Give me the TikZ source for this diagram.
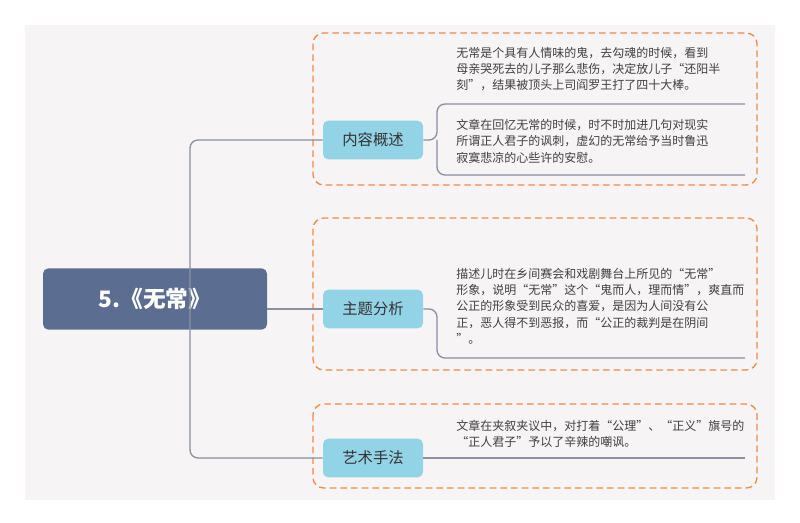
\documentclass[tikz,border=0pt]{standalone}
\usepackage{fontspec}
\setmainfont{Noto Sans CJK SC}
\usetikzlibrary{positioning}
\definecolor{rootblue}{HTML}{5B6E92}
\definecolor{topicblue}{HTML}{92D3E6}
\definecolor{dashorange}{HTML}{F08A4B}
\definecolor{linegray}{HTML}{8A90A0}
\definecolor{panelgray}{HTML}{F6F4F4}
\tikzset{
  topic/.style={rounded corners=4pt, fill=topicblue, minimum width=75pt, minimum height=29pt, font=\fontsize{11.5}{13}\selectfont, text=black!80},
  detail/.style={align=left, anchor=north west, font=\fontsize{9}{12.2}\selectfont, text=black!75, inner sep=0pt},
  group/.style={draw=dashorange, dashed, line width=1pt, dash pattern=on 5pt off 3pt, rounded corners=8pt, fill=panelgray},
  branch/.style={draw=linegray, line width=1pt, rounded corners=6pt}
}
\begin{document}
\begin{tikzpicture}[x=0.75pt, y=-0.75pt]
  \useasboundingbox (0,0) rectangle (800,523);
  \fill[white] (0,0) rectangle (800,523);
  \fill[panelgray] (25,25) rectangle (775,500);
  % groups
  \draw[group] (313,33) rectangle (757,185);
  \draw[group] (313,218) rectangle (757,370);
  \draw[group] (313,404) rectangle (757,488);
  % root and topics
  \node (root) at (155,299) [rounded corners=4pt, fill=rootblue, minimum width=168pt, minimum height=46pt, text=white, font=\fontsize{17}{20}\selectfont\bfseries] {5.《无常》};
  \node (content) at (373,140) [topic] {内容概述};
  \node (theme) at (373,309) [topic] {主题分析};
  \node (art) at (373,458) [topic] {艺术手法};
  \coordinate (c1) at (745,104);
  \coordinate (c2) at (745,175);
  \coordinate (t1) at (745,358);
  \coordinate (a1) at (745,458);
  % connectors
  \draw[branch] (content.west) -| (190,299) |- (art.west);
  \draw[branch] (root.east |- theme.west) -- (theme.west);
  \draw[branch] (content.east) -- (437,140) |- (c1);
  \draw[branch] (437,140) |- (c2);
  \draw[branch] (theme.east) -- (437,309) |- (t1);
  \draw[branch] (art.east) -- (a1);
  % texts
  \node (d1) at (456,47) [detail] {无常是个具有人情味的鬼，去勾魂的时候，看到\\母亲哭死去的儿子那么悲伤，决定放儿子“还阳半\\刻”，结果被顶头上司阎罗王打了四十大棒。};
  \node (d2) at (456,119) [detail] {文章在回忆无常的时候，时不时加进几句对现实\\所谓正人君子的讽刺，虚幻的无常给予当时鲁迅\\寂寞悲凉的心些许的安慰。};
  \node (d3) at (456,268) [detail] {描述儿时在乡间赛会和戏剧舞台上所见的“无常”\\形象，说明“无常”这个“鬼而人，理而情”，爽直而\\公正的形象受到民众的喜爱，是因为人间没有公\\正，恶人得不到恶报，而“公正的裁判是在阴间\\”。};
  \node (d4) at (456,420) [detail] {文章在夹叙夹议中，对打着“公理”、“正义”旗号的\\“正人君子”予以了辛辣的嘲讽。};
\end{tikzpicture}
\end{document}
